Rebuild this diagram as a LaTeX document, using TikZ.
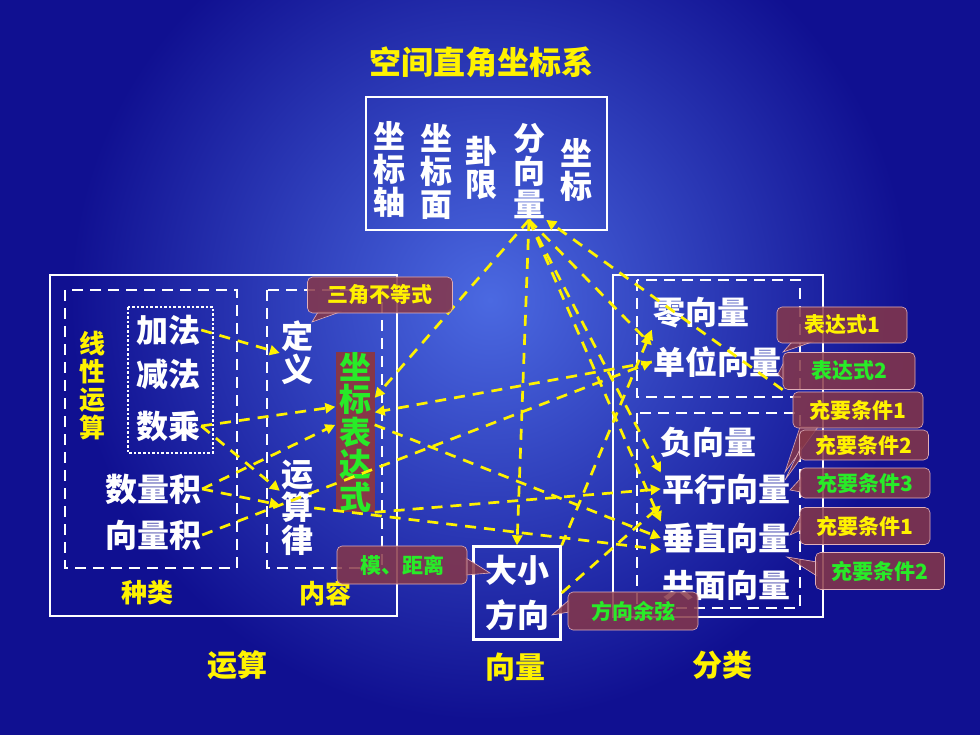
\documentclass[tikz,border=0pt]{standalone}
\usepackage{fontspec}
\setmainfont{Noto Sans CJK SC}
\usetikzlibrary{arrows.meta,positioning,shapes,calc}
\definecolor{deepblue}{RGB}{16,16,145}
\definecolor{glowblue}{RGB}{75,105,225}
\definecolor{tipred}{RGB}{135,55,72}
\definecolor{tipedge}{RGB}{225,175,185}
\definecolor{lightgreen}{RGB}{40,235,40}
\tikzset{
  word/.style={text=white,font=\fontsize{32}{33}\selectfont\bfseries,inner sep=1pt,align=center},
  gold/.style={text=yellow,font=\fontsize{30}{31}\selectfont\bfseries,inner sep=1pt,align=center},
  tip/.style={fill=tipred,fill opacity=0.85,text opacity=1,draw=tipedge,line width=0.6pt,rounded corners=5pt,
    font=\fontsize{21}{22}\selectfont\bfseries,inner sep=0pt},
  tail/.style={fill=tipred,fill opacity=0.85,draw=tipedge,line width=0.6pt},
  frame/.style={draw=white,line width=2.4pt},
  dashframe/.style={draw=white,line width=2.2pt,dash pattern=on 11pt off 7pt},
  link/.style={draw=yellow,line width=2.7pt,dash pattern=on 11pt off 8pt,-{Triangle[length=10pt,width=10pt]}}
}

\begin{document}
\begin{tikzpicture}[x=1pt,y=-1pt]
    % Background
    \useasboundingbox (0,0) rectangle (980,735);
    \fill[deepblue] (0,0) rectangle (980,735);
    \begin{scope}
        \clip (0,0) rectangle (980,735);
        \shade[inner color=glowblue,outer color=deepblue] (490,300) circle (420);
    \end{scope}

    % Title and top box
    \node[gold,font=\fontsize{32}{33}\selectfont\bfseries] (title) at (481,62) {空间直角坐标系};
    \draw[frame] (366,97) rectangle (607,230);
    \node[word] (axis) at (389,170) {坐\\标\\轴};
    \node[word] (plane) at (436,172) {坐\\标\\面};
    \node[word] (oct) at (481,168) {卦\\限};
    \node[word] (fen) at (529,171) {分\\向\\量};
    \node[word] (crd) at (576,170) {坐\\标};

    % Operations box
    \draw[frame] (50,275) rectangle (397,616);
    \draw[dashframe] (65,290) rectangle (237,568);
    \draw[dashframe] (267,290) rectangle (382,568);
    \draw[white,line width=2.6pt,dotted] (128,307) rectangle (213,453);
    \node[gold,font=\fontsize{26}{28}\selectfont\bfseries] (linear) at (92,386) {线\\性\\运\\算};
    \node[word] (add) at (168,330) {加法};
    \node[word] (sub) at (168,374) {减法};
    \node[word] (smul) at (168,426) {数乘};
    \node[word] (dot) at (153,489) {数量积};
    \node[word] (cross) at (153,535) {向量积};
    \node[word] (defn) at (297,353) {定\\义};
    \node[word] (law) at (297,508) {运\\算\\律};
    \node[fill=tipred,text=lightgreen,font=\fontsize{32}{32.5}\selectfont\bfseries,align=center,
      minimum width=39pt,minimum height=160pt,inner sep=0pt] (coord) at (355,432) {坐\\标\\表\\达\\式};
    \node[gold,font=\fontsize{26}{27}\selectfont\bfseries] (kind) at (147,593) {种类};
    \node[gold,font=\fontsize{26}{27}\selectfont\bfseries] (content) at (325,593) {内容};

    % Vector box
    \node[word,draw=white,line width=2.4pt,minimum width=87pt,minimum height=93pt,
      font=\fontsize{32}{45}\selectfont\bfseries] (vec) at (517,593) {大小\\方向};

    % Classification box
    \draw[frame] (613,275) rectangle (823,617);
    \draw[dashframe] (637,280) rectangle (800,397);
    \draw[dashframe] (637,413) rectangle (800,608);
    \node[word] (zero) at (701,313) {零向量};
    \node[word] (unit) at (717,362) {单位向量};
    \node[word] (neg) at (708,442) {负向量};
    \node[word] (par) at (726,489) {平行向量};
    \node[word] (perp) at (726,538) {垂直向量};
    \node[word] (copl) at (726,585) {共面向量};

    % Bottom labels
    \node[gold] (ops) at (237,665) {运算};
    \node[gold] (vlabel) at (515,667) {向量};
    \node[gold] (cls) at (722,665) {分类};

    % Connections
    \draw[link] (add.east) -- (defn.west);
    \draw[link] (smul.east) -- (coord.128);
    \draw[link] (smul.east) -- (law.135);
    \draw[link] (dot.east) -- (coord.160);
    \draw[link] (dot.east) -- (law.170);
    \draw[link] (cross.east) -- (unit.west);
    \draw[link] (fen.south) -- (coord.60);
    \draw[link] (fen.south) -- (vec.north);
    \draw[link] (fen.south) -- (par.north west);
    \draw[link] (fen.south) -- (perp.north west);
    \draw[link] (fen.south) -- (unit.north west);
    \draw[link] (unit.west) -- (coord.45);
    \draw[link] (coord.20) -- (perp.west);
    \draw[link] (coord.south east) -- (par.west);
    \draw[link] (law.east) -- (perp.190);
    \draw[link] (vec.north east) -- (zero.south west);
    \draw[link] (vec.east) -- (par.south west);

    % Callouts
    \fill[tail] (318,312) -- (312,322) -- (340,312) -- cycle;
    \node[tip,text=yellow,minimum width=145pt,minimum height=36pt] (tri) at (380,295) {三角不等式};
    \fill[tail] (466,558) -- (490,573) -- (466,575) -- cycle;
    \node[tip,text=lightgreen,minimum width=130pt,minimum height=38pt] (dist) at (402,565) {模、距离};
    \fill[tail] (569,600) -- (552,615) -- (569,612) -- cycle;
    \node[tip,text=lightgreen,minimum width=130pt,minimum height=38pt] (dcos) at (633,611) {方向余弦};
    \fill[tail] (792,342) -- (783,352) -- (812,342) -- cycle;
    \node[tip,text=yellow,minimum width=130pt,minimum height=36pt] (expr1) at (842,325) {表达式1};
    \fill[tail] (784,362) -- (778,374) -- (784,380) -- cycle;
    \node[tip,text=lightgreen,minimum width=132pt,minimum height=37pt] (expr2) at (849,371) {表达式2};
    \draw[link] (expr2.south west) -- (fen.south east);
    \fill[tail] (800,427) -- (785,472) -- (818,427) -- cycle;
    \node[tip,text=yellow,minimum width=130pt,minimum height=36pt] (nec1) at (858,410) {充要条件1};
    \fill[tail] (801,447) -- (785,480) -- (801,458) -- cycle;
    \node[tip,text=yellow,minimum width=129pt,minimum height=30pt] (nec2) at (864,445) {充要条件2};
    \fill[tail] (801,478) -- (790,490) -- (801,492) -- cycle;
    \node[tip,text=lightgreen,minimum width=130pt,minimum height=30pt] (nec3) at (865,483) {充要条件3};
    \fill[tail] (801,515) -- (790,535) -- (801,530) -- cycle;
    \node[tip,text=yellow,minimum width=130pt,minimum height=37pt] (perp1) at (865,526) {充要条件1};
    \fill[tail] (817,562) -- (787,557) -- (817,576) -- cycle;
    \node[tip,text=lightgreen,minimum width=129pt,minimum height=37pt] (perp2) at (880,571) {充要条件2};
\end{tikzpicture}
\end{document}
